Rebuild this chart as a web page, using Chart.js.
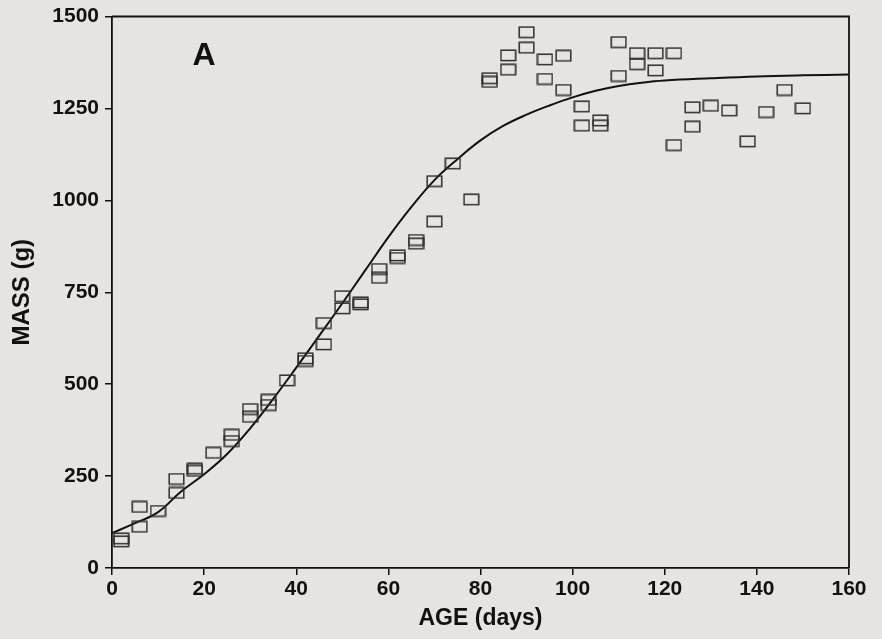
<!DOCTYPE html>
<html>
<head>
<meta charset="utf-8">
<script src="https://cdn.jsdelivr.net/npm/chart.js@4/dist/chart.umd.min.js"></script>
<style>
  html, body { margin: 0; padding: 0; background: #e5e4e0; }
  #wrap { width: 882px; height: 639px; }
</style>
</head>
<body>
<div id="wrap"><canvas id="c" width="882" height="639"></canvas></div>
<script>
// Observed data (age in days, mass in g)
const ages = [2,2,6,6,10,14,14,18,18,22,26,26,30,30,34,34,38,42,42,46,46,50,50,54,54,58,58,62,62,66,66,70,70,74,78,82,82,86,86,90,90,94,94,98,98,102,102,106,106,110,110,114,114,118,118,122,122,126,126,130,134,138,142,146,150];
const masses = [72,80,112,166,155,204,242,264,270,313,345,362,411,432,443,457,510,563,570,608,666,706,739,717,722,789,813,843,850,882,892,942,1052,1100,1002,1322,1332,1355,1394,1415,1457,1330,1383,1300,1393,1203,1255,1203,1217,1338,1430,1370,1400,1353,1400,1150,1400,1200,1253,1257,1244,1160,1240,1300,1250];

// Fitted growth curve
const curveAges = [0,5,10,15,20,25,30,35,40,45,50,55,60,65,70,75,80,85,90,95,100,105,110,115,120,130,140,150,160];
const curveMass = [95,122,152,208,255,310,380,460,545,632,720,810,900,982,1055,1112,1163,1203,1233,1258,1280,1298,1311,1320,1326,1332,1337,1340,1342];

const xTicks = [0,20,40,60,80,100,120,140,160];
const yTicks = [0,250,500,750,1000,1250,1500];
const panelLabel = 'A';

const FONT = '"Liberation Sans", Arial, Helvetica, sans-serif';

// Rectangular hollow marker
const marker = document.createElement('canvas');
marker.width = 17; marker.height = 13;
(function(){
  const g = marker.getContext('2d');
  g.strokeStyle = '#2e2e2e';
  g.lineWidth = 1.5;
  g.strokeRect(1.2, 1.2, 14.6, 10.4);
})();

const framePlugin = {
  id: 'frame',
  afterDraw(chart) {
    const {ctx, chartArea: a} = chart;
    ctx.save();
    ctx.strokeStyle = '#111';
    ctx.lineWidth = 1.8;
    ctx.beginPath();
    ctx.moveTo(a.left, a.top);
    ctx.lineTo(a.right, a.top);
    ctx.lineTo(a.right, a.bottom);
    ctx.stroke();
    ctx.fillStyle = '#111';
    ctx.font = 'bold 32px ' + FONT;
    ctx.textAlign = 'center';
    ctx.textBaseline = 'alphabetic';
    ctx.fillText(panelLabel, a.left + 92, a.top + 48);
    ctx.restore();
  }
};

new Chart(document.getElementById('c'), {
  type: 'scatter',
  data: {
    datasets: [
      {
        label: 'observed',
        data: ages.map((x, i) => ({x, y: masses[i]})),
        pointStyle: marker,
        pointRadius: 7,
        showLine: false
      },
      {
        label: 'fit',
        data: curveAges.map((x, i) => ({x, y: curveMass[i]})),
        showLine: true,
        pointRadius: 0,
        borderColor: '#111',
        borderWidth: 2,
        tension: 0.4,
        fill: false
      }
    ]
  },
  options: {
    responsive: false,
    animation: false,
    layout: { padding: { top: 14, right: 33, bottom: 0, left: 0 } },
    plugins: { legend: { display: false }, tooltip: { enabled: false } },
    scales: {
      x: {
        type: 'linear', min: 0, max: 160,
        afterBuildTicks: s => { s.ticks = xTicks.map(v => ({value: v})); },
        afterFit: s => { s.height = 71; },
        ticks: { color: '#111', font: { family: FONT, size: 21, weight: 'bold' }, padding: 2, maxRotation: 0, callback: v => String(v) },
        grid: { drawOnChartArea: false, drawTicks: true, tickLength: 7, color: '#111', lineWidth: 1.5 },
        border: { display: true, color: '#111', width: 1.8 },
        title: { display: true, text: 'AGE (days)', color: '#111', font: { family: FONT, size: 23, weight: 'bold' }, padding: { top: 0, bottom: 7 } }
      },
      y: {
        type: 'linear', min: 0, max: 1500,
        afterBuildTicks: s => { s.ticks = yTicks.map(v => ({value: v})); },
        afterFit: s => { s.width = 112; },
        ticks: { color: '#111', font: { family: FONT, size: 21, weight: 'bold', lineHeight: 1 }, padding: 6, callback: v => String(v) },
        grid: { drawOnChartArea: false, drawTicks: true, tickLength: 7, color: '#111', lineWidth: 1.5 },
        border: { display: true, color: '#111', width: 1.8 },
        title: { display: true, text: 'MASS (g)', color: '#111', font: { family: FONT, size: 24, weight: 'bold' }, padding: { top: 8, bottom: 0 } }
      }
    }
  },
  plugins: [framePlugin]
});
</script>
</body>
</html>
